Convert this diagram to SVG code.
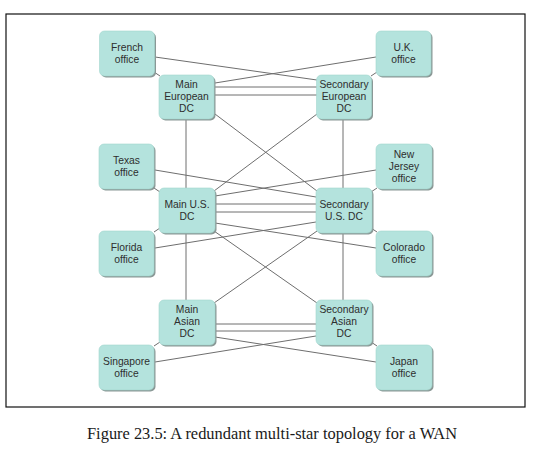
<svg xmlns="http://www.w3.org/2000/svg" width="534" height="453" viewBox="0 0 534 453">
<style>
.n rect.s{fill:#8a9896;}
.n rect.b{fill:#b4e3dd;stroke:#a2d6cf;stroke-width:0.6;}
.n text{font-family:"Liberation Sans",Arial,sans-serif;font-size:10.3px;fill:#2e2e2e;text-anchor:middle;}
#connectors line{stroke:#6e6e6e;stroke-width:1;}
.cap{font-family:"Liberation Serif","Times New Roman",serif;font-size:16px;fill:#1a1a1a;text-anchor:middle;}
</style>
<rect x="0" y="0" width="534" height="453" fill="#fff"/>
<rect x="6" y="14" width="519" height="393" fill="none" stroke="#111" stroke-width="1.2"/>
<g id="connectors">
<line x1="155" y1="57" x2="317" y2="80"/>
<line x1="376" y1="57" x2="215" y2="83"/>
<line x1="154" y1="72" x2="160" y2="76"/>
<line x1="377" y1="72" x2="371" y2="76"/>
<line x1="215" y1="87" x2="317" y2="87"/>
<line x1="215" y1="95" x2="317" y2="95"/>
<line x1="215" y1="114" x2="317" y2="191"/>
<line x1="317" y1="114" x2="214" y2="191"/>
<line x1="186" y1="120" x2="186" y2="300"/>
<line x1="343" y1="120" x2="343" y2="300"/>
<line x1="155" y1="170" x2="316" y2="197"/>
<line x1="376" y1="170" x2="215" y2="196"/>
<line x1="154" y1="188" x2="160" y2="192"/>
<line x1="377" y1="188" x2="371" y2="192"/>
<line x1="215" y1="204" x2="316" y2="204"/>
<line x1="215" y1="212" x2="316" y2="212"/>
<line x1="155" y1="248" x2="316" y2="222"/>
<line x1="376" y1="248" x2="215" y2="223"/>
<line x1="154" y1="232" x2="160" y2="228"/>
<line x1="377" y1="232" x2="371" y2="228"/>
<line x1="214" y1="231" x2="317" y2="303"/>
<line x1="317" y1="231" x2="214" y2="303"/>
<line x1="215" y1="324" x2="316" y2="324"/>
<line x1="215" y1="331" x2="316" y2="331"/>
<line x1="155" y1="362" x2="316" y2="336"/>
<line x1="376" y1="362" x2="215" y2="337"/>
<line x1="154" y1="346" x2="160" y2="342"/>
<line x1="377" y1="346" x2="371" y2="342"/>
</g>
<g id="french" class="n"><rect class="s" x="101" y="32.5" width="55" height="45" rx="5"/><rect class="b" x="99.5" y="31" width="55" height="45" rx="5"/><text x="127" y="50.5">French</text><text x="127" y="62.5">office</text></g>
<g id="uk" class="n"><rect class="s" x="377.5" y="32.5" width="55" height="45" rx="5"/><rect class="b" x="376" y="31" width="55" height="45" rx="5"/><text x="403.5" y="50.5">U.K.</text><text x="403.5" y="62.5">office</text></g>
<g id="main-eu" class="n"><rect class="s" x="160.5" y="76.5" width="55" height="44" rx="5"/><rect class="b" x="159" y="75" width="55" height="44" rx="5"/><text x="186.5" y="88">Main</text><text x="186.5" y="100">European</text><text x="186.5" y="112">DC</text></g>
<g id="sec-eu" class="n"><rect class="s" x="318" y="76.5" width="55" height="44" rx="5"/><rect class="b" x="316.5" y="75" width="55" height="44" rx="5"/><text x="344" y="88">Secondary</text><text x="344" y="100">European</text><text x="344" y="112">DC</text></g>
<g id="texas" class="n"><rect class="s" x="100.5" y="145.5" width="55" height="45" rx="5"/><rect class="b" x="99" y="144" width="55" height="45" rx="5"/><text x="126.5" y="163.5">Texas</text><text x="126.5" y="175.5">office</text></g>
<g id="new-jersey" class="n"><rect class="s" x="377.5" y="145.5" width="56" height="45" rx="5"/><rect class="b" x="376" y="144" width="56" height="45" rx="5"/><text x="404" y="157.5">New</text><text x="404" y="169.5">Jersey</text><text x="404" y="181.5">office</text></g>
<g id="main-us" class="n"><rect class="s" x="160.5" y="189.5" width="56" height="45" rx="5"/><rect class="b" x="159" y="188" width="56" height="45" rx="5"/><text x="187" y="207.5">Main U.S.</text><text x="187" y="219.5">DC</text></g>
<g id="sec-us" class="n"><rect class="s" x="317.5" y="189.5" width="56" height="45" rx="5"/><rect class="b" x="316" y="188" width="56" height="45" rx="5"/><text x="344" y="207.5">Secondary</text><text x="344" y="219.5">U.S. DC</text></g>
<g id="florida" class="n"><rect class="s" x="100.5" y="232.5" width="55" height="45" rx="5"/><rect class="b" x="99" y="231" width="55" height="45" rx="5"/><text x="126.5" y="250.5">Florida</text><text x="126.5" y="262.5">office</text></g>
<g id="colorado" class="n"><rect class="s" x="377.5" y="232.5" width="56" height="45" rx="5"/><rect class="b" x="376" y="231" width="56" height="45" rx="5"/><text x="404" y="250.5">Colorado</text><text x="404" y="262.5">office</text></g>
<g id="main-asia" class="n"><rect class="s" x="160.5" y="301.5" width="56" height="45" rx="5"/><rect class="b" x="159" y="300" width="56" height="45" rx="5"/><text x="187" y="313">Main</text><text x="187" y="325">Asian</text><text x="187" y="337">DC</text></g>
<g id="sec-asia" class="n"><rect class="s" x="317.5" y="301.5" width="56" height="45" rx="5"/><rect class="b" x="316" y="300" width="56" height="45" rx="5"/><text x="344" y="313">Secondary</text><text x="344" y="325">Asian</text><text x="344" y="337">DC</text></g>
<g id="singapore" class="n"><rect class="s" x="100.5" y="346.5" width="55" height="45" rx="5"/><rect class="b" x="99" y="345" width="55" height="45" rx="5"/><text x="126.5" y="364.5">Singapore</text><text x="126.5" y="376.5">office</text></g>
<g id="japan" class="n"><rect class="s" x="377.5" y="346.5" width="56" height="45" rx="5"/><rect class="b" x="376" y="345" width="56" height="45" rx="5"/><text x="404" y="364.5">Japan</text><text x="404" y="376.5">office</text></g>
<text class="cap" x="272" y="439" textLength="370" lengthAdjust="spacingAndGlyphs">Figure 23.5: A redundant multi-star topology for a WAN</text>
</svg>
